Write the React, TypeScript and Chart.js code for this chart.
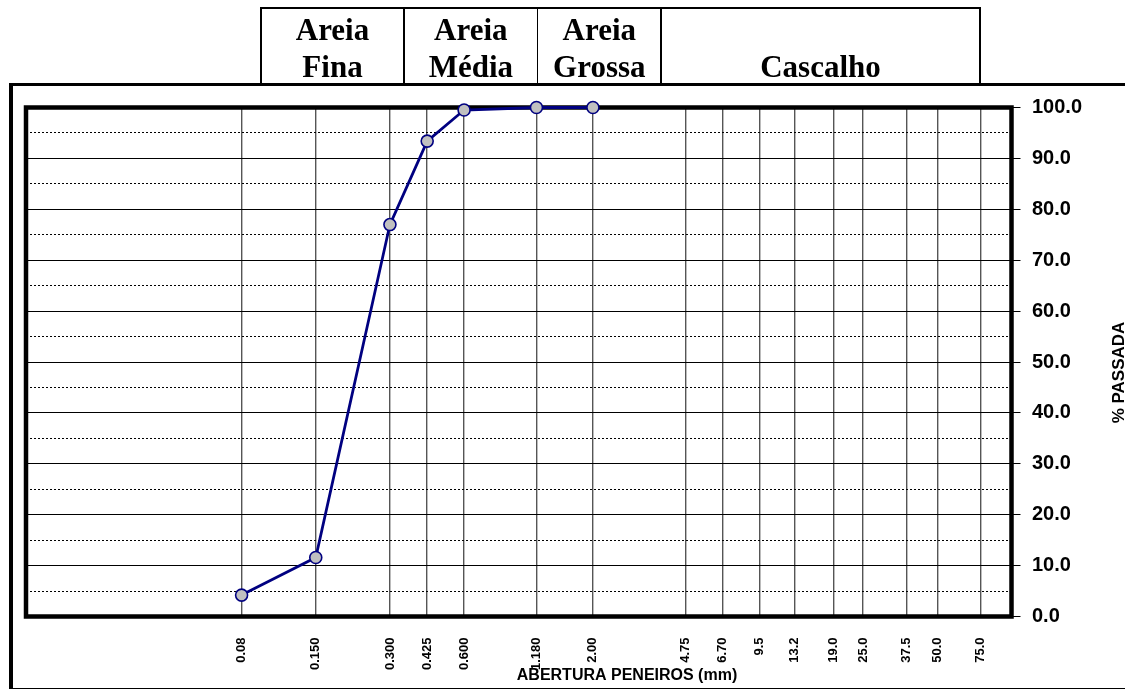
import React, { useEffect, useRef } from "react";
import { Chart, registerables } from "chart.js";

Chart.register(...registerables);

// ---- data ----
const sieveSizes = [0.075, 0.15, 0.3, 0.425, 0.6, 1.18, 2.0, 4.75, 6.7, 9.5, 13.2, 19.0, 25.0, 37.5, 50.0, 75.0];
const sieveLabels = ["0.08", "0.150", "0.300", "0.425", "0.600", "1.180", "2.00", "4.75", "6.70", "9.5", "13.2", "19.0", "25.0", "37.5", "50.0", "75.0"];
const testedSieves = [0.075, 0.15, 0.3, 0.425, 0.6, 1.18, 2.0];
const percentPassing = [4.2, 11.6, 77.0, 93.4, 99.5, 100.0, 100.0];
const yTickLabels = ["0.0", "10.0", "20.0", "30.0", "40.0", "50.0", "60.0", "70.0", "80.0", "90.0", "100.0"];
const xAxisTitle = "ABERTURA PENEIROS (mm)";
const yAxisTitle = "% PASSADA";
const classTop = ["Areia", "Areia", "Areia", ""];
const classBottom = ["Fina", "Média", "Grossa", "Cascalho"];

const SANS = '"Liberation Sans", Arial, sans-serif';
const SERIF = '"Liberation Serif", "Times New Roman", serif';

export default function App() {
  const canvasRef = useRef<HTMLCanvasElement | null>(null);

  useEffect(() => {
    const canvas = canvasRef.current;
    if (!canvas) return;

    const framePlugin = {
      id: "frameAndTitles",
      beforeDatasetsDraw(chart: any) {
        const { ctx, chartArea } = chart;
        ctx.save();
        ctx.strokeStyle = "#000";
        ctx.lineWidth = 4.5;
        ctx.strokeRect(chartArea.left, chartArea.top, chartArea.right - chartArea.left, chartArea.bottom - chartArea.top);
        ctx.restore();
      },
      afterDraw(chart: any) {
        const { ctx, chartArea } = chart;
        ctx.save();
        ctx.fillStyle = "#000";
        ctx.font = `bold 16px ${SANS}`;
        ctx.textAlign = "center";
        ctx.textBaseline = "middle";
        ctx.fillText(xAxisTitle, chartArea.left + 601, chartArea.bottom + 59);
        ctx.translate(chartArea.right + 107.5, (chartArea.top + chartArea.bottom) / 2 + 10.5);
        ctx.rotate(-Math.PI / 2);
        ctx.font = `bold 17px ${SANS}`;
        ctx.fillText(yAxisTitle, 0, 0);
        ctx.restore();
      },
    };

    const chart = new Chart(canvas, {
      type: "line",
      data: {
        datasets: [
          {
            data: testedSieves.map((x, i) => ({ x, y: percentPassing[i] })),
            borderColor: "#000080",
            borderWidth: 2.8,
            backgroundColor: "#C0C0C0",
            pointBackgroundColor: "#C0C0C0",
            pointBorderColor: "#000080",
            pointBorderWidth: 1.6,
            pointRadius: 6,
            tension: 0,
            fill: false,
            clip: false as any,
          },
        ],
      },
      options: {
        animation: false,
        responsive: false,
        devicePixelRatio: 1,
        layout: { padding: { left: 26, top: 107.5, right: 0, bottom: 0 } },
        plugins: { legend: { display: false }, tooltip: { enabled: false }, title: { display: false } },
        scales: {
          x: {
            type: "logarithmic",
            min: 0.01,
            max: 100,
            position: "bottom",
            afterBuildTicks: (axis: any) => {
              axis.ticks = sieveSizes.map((v) => ({ value: v }));
            },
            afterFit: (axis: any) => {
              axis.height = 72.5;
            },
            border: { display: false },
            grid: { color: "#555555", lineWidth: 1.4, drawTicks: false },
            ticks: {
              autoSkip: false,
              minRotation: 90,
              maxRotation: 90,
              padding: 21,
              color: "#000",
              font: { family: SANS, size: 13, weight: "bold" },
              callback: (_v: any, i: number) => sieveLabels[i],
            },
          },
          y: {
            type: "linear",
            position: "right",
            min: 0,
            max: 100,
            afterFit: (axis: any) => {
              axis.width = 113.5;
            },
            border: {
              display: false,
              dash: (ctx: any) => (ctx.tick && ctx.tick.value % 10 !== 0 ? [2, 2] : []),
            } as any,
            grid: {
              color: "#000",
              lineWidth: 1,
              tickLength: 9,
              tickColor: (ctx: any) => (ctx.tick && ctx.tick.value % 10 === 0 ? "#000" : "rgba(0,0,0,0)"),
            },
            ticks: {
              stepSize: 5,
              autoSkip: false,
              padding: 11.5,
              color: "#000",
              font: { family: SANS, size: 20, weight: "bold" },
              callback: (v: any) => (v % 10 === 0 ? yTickLabels[v / 10] : ""),
            },
          },
        },
      } as any,
      plugins: [framePlugin],
    });

    return () => chart.destroy();
  }, []);

  const boxEdges = [261, 404, 537.7, 661, 980];
  const line = (style: React.CSSProperties) => (
    <div style={{ position: "absolute", background: "#000", ...style }} />
  );

  return (
    <div style={{ position: "fixed", left: 0, top: 0, width: 1125, height: 689, background: "#fff", overflow: "hidden" }}>
      <canvas ref={canvasRef} width={1125} height={689} style={{ position: "absolute", left: 0, top: 0, width: 1125, height: 689 }} />
      {/* outer frame */}
      {line({ left: 9, top: 83, width: 4, height: 606 })}
      {line({ left: 9, top: 83, width: 1116, height: 3 })}
      {line({ left: 9, top: 687.5, width: 1116, height: 1.5 })}
      {/* class table */}
      {line({ left: 261, top: 7, width: 720, height: 1.5 })}
      {boxEdges.map((x, i) => (
        <React.Fragment key={i}>{line({ left: x - 0.75, top: 7, width: 1.5, height: 77 })}</React.Fragment>
      ))}
      {classBottom.map((name, i) => (
        <div
          key={name}
          style={{
            position: "absolute",
            left: boxEdges[i],
            width: boxEdges[i + 1] - boxEdges[i],
            top: 12,
            textAlign: "center",
            fontFamily: SERIF,
            fontWeight: "bold",
            fontSize: 31,
            lineHeight: "36.6px",
            color: "#000",
          }}
        >
          <div>{classTop[i] || "\u00a0"}</div>
          <div>{name}</div>
        </div>
      ))}
    </div>
  );
}
